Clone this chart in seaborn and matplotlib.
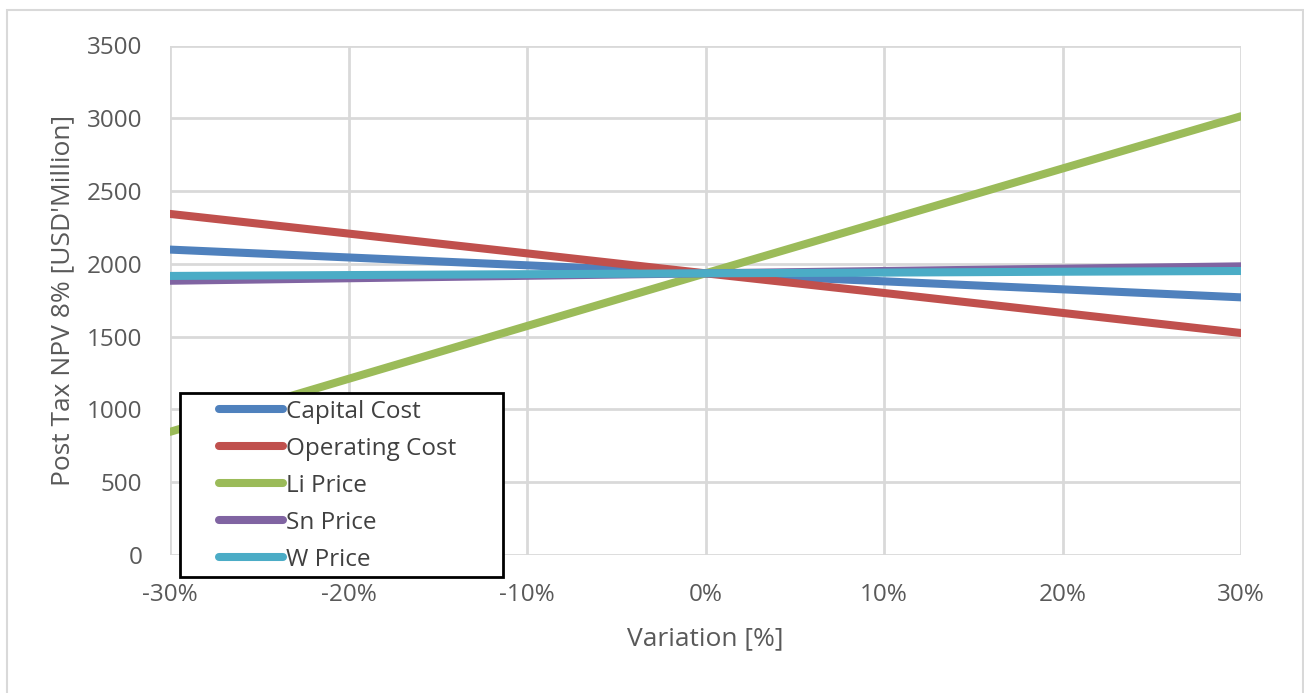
import matplotlib
matplotlib.use("Agg")
import matplotlib.pyplot as plt
import seaborn as sns
import pandas as pd
from matplotlib.patches import Rectangle
from matplotlib.lines import Line2D
from matplotlib.ticker import FuncFormatter

variation = [-30, -20, -10, 0, 10, 20, 30]
capital_cost = [2098, 2044, 1990, 1935, 1880, 1825, 1770]
operating_cost = [2343, 2208, 2072, 1935, 1800, 1663, 1525]
li_price = [846, 1210, 1573, 1935, 2295, 2655, 3014]
sn_price = [1884, 1901, 1918, 1935, 1951, 1967, 1983]
w_price = [1917, 1923, 1929, 1935, 1940, 1946, 1951]

series_names = ["Capital Cost", "Operating Cost", "Li Price", "Sn Price", "W Price"]
series_values = [capital_cost, operating_cost, li_price, sn_price, w_price]
colors = ["#4F81BD", "#C0504D", "#9BBB59", "#8064A2", "#4BACC6"]

rows = []
for name, vals in zip(series_names, series_values):
    for x, v in zip(variation, vals):
        rows.append({"Variation": x, "NPV": v, "Series": name})
df = pd.DataFrame(rows)

sns.set_style("white")
plt.rcParams['font.family'] = ['Open Sans', 'DejaVu Sans']

W, H = 1304, 693
fig = plt.figure(figsize=(W / 100, H / 100), dpi=100)
ax = fig.add_axes([170 / W, 1 - 555 / H, (1241 - 170) / W, (555 - 45.5) / H])

# outer chart border
fig.patches.append(Rectangle((7 / W, -0.05), (1303 - 7) / W, 1.05 - 10 / H,
                             transform=fig.transFigure, fill=False,
                             edgecolor="#D9D9D9", linewidth=1.5))

sns.lineplot(data=df, x="Variation", y="NPV", hue="Series", hue_order=series_names,
             palette=dict(zip(series_names, colors)), linewidth=5.8, ax=ax,
             legend=False)

ax.set_xlim(-30, 30)
ax.set_ylim(0, 3500)
ax.set_xticks(variation)
ax.set_yticks(range(0, 3501, 500))
ax.xaxis.set_major_formatter(FuncFormatter(lambda v, p: f"{int(v)}%"))
ax.grid(True, color="#D9D9D9", linewidth=2)
ax.set_axisbelow(True)
for s in ax.spines.values():
    s.set_visible(False)
ax.tick_params(axis="both", length=0, labelsize=17.5, colors="#595959")
ax.tick_params(axis="y", pad=20)
ax.tick_params(axis="x", pad=20)
ax.set_xlabel("Variation [%]", fontsize=19, color="#595959", labelpad=14)
ax.set_ylabel("Post Tax NPV 8% [USD'Million]", fontsize=19, color="#595959", labelpad=8)

# legend frame
fig.patches.append(Rectangle((180 / W, 1 - 577 / H), (503 - 180) / W, (577 - 393) / H,
                             transform=fig.transFigure, facecolor="white",
                             edgecolor="black", linewidth=2, zorder=5))
handles = [Line2D([0], [0], color=c, linewidth=5.8, solid_capstyle="round") for c in colors]
leg = fig.legend(handles, series_names, loc="upper left",
                 bbox_to_anchor=(219 / W, 1 - 400 / H), fontsize=17.5,
                 frameon=False, handlelength=2.65, handletextpad=0.12,
                 labelspacing=0.53, borderpad=0.0, borderaxespad=0)
leg.set_zorder(6)
for t in leg.get_texts():
    t.set_color("#404040")

fig.savefig("out.png", dpi=100)
